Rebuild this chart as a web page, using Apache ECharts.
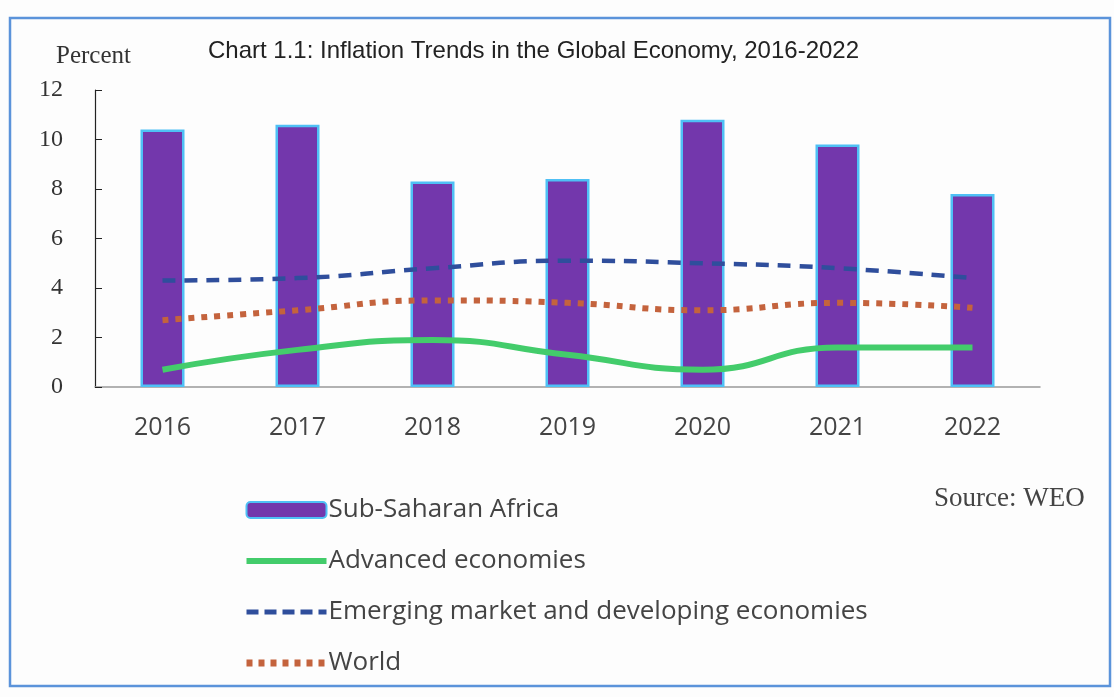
<!DOCTYPE html>
<html><head><meta charset="utf-8">
<script src="https://cdn.jsdelivr.net/npm/echarts@6/dist/echarts.min.js"></script>
<style>html,body{margin:0;padding:0;background:#fdfdfd;}#c{width:1114px;height:697px;}</style>
</head><body><div id="c"></div>
<script>
const years = ['2016','2017','2018','2019','2020','2021','2022'];
const ssa = [10.4, 10.6, 8.3, 8.4, 10.8, 9.8, 7.8];
const advanced = [0.7, 1.5, 1.9, 1.3, 0.7, 1.6, 1.6];
const emerging = [4.3, 4.4, 4.8, 5.1, 5.0, 4.8, 4.4];
const world = [2.7, 3.1, 3.5, 3.4, 3.1, 3.4, 3.2];
const yTicks = [0, 2, 4, 6, 8, 10, 12];

const hideSym = {opacity: 0};
const chart = echarts.init(document.getElementById('c'));
chart.setOption({
  backgroundColor: '#fdfdfd',
  animation: false,
  title: {
    text: 'Chart 1.1: Inflation Trends in the Global Economy, 2016-2022',
    left: 203, top: 34,
    textStyle: {fontFamily: 'Liberation Sans', fontSize: 24, fontWeight: 'normal', color: '#222'}
  },
  graphic: [
    {type: 'rect', shape: {x: 10, y: 18, width: 1100, height: 668},
     style: {fill: 'none', stroke: '#5b93da', lineWidth: 2.5}},
    {type: 'text', left: 56, top: 44,
     style: {text: 'Percent', font: '25px "Liberation Serif"', fill: '#333'}},
    {type: 'text', left: 934, top: 485,
     style: {text: 'Source: WEO', font: '27px "Liberation Serif"', fill: '#444'}}
  ],
  legend: {
    orient: 'vertical', left: 238, top: 492,
    itemWidth: 80, itemHeight: 16, itemGap: 25,
    textStyle: {fontFamily: 'Open Sans', fontSize: 26, color: '#444', padding: [0, 0, 0, -3]},
    data: [
      {name: 'Sub-Saharan Africa'},
      {name: 'Advanced economies', itemStyle: hideSym, lineStyle: {width: 6}},
      {name: 'Emerging market and developing economies', itemStyle: hideSym, lineStyle: {width: 5, type: [12, 6]}},
      {name: 'World', itemStyle: hideSym, lineStyle: {width: 7, type: [6, 6]}}
    ]
  },
  grid: {left: 95, right: 74, top: 90, bottom: 310},
  xAxis: {
    type: 'category', data: years, boundaryGap: true,
    axisLine: {lineStyle: {color: '#999', width: 1.5}},
    axisTick: {inside: true, length: 6, lineStyle: {color: '#888'}},
    axisLabel: {fontFamily: 'Open Sans', fontSize: 25, color: '#444', margin: 28}
  },
  yAxis: {
    type: 'value', min: 0, max: 12, interval: 2,
    axisLine: {show: true, lineStyle: {color: '#222', width: 1.2}},
    axisTick: {show: true, inside: true, length: 7, lineStyle: {color: '#222'}},
    splitLine: {show: false},
    axisLabel: {fontFamily: 'Liberation Serif', fontSize: 24, color: '#333', margin: 32,
      formatter: v => yTicks.includes(v) ? String(v) : ''}
  },
  series: [
    {name: 'Sub-Saharan Africa', type: 'bar', data: ssa, barWidth: 44,
     itemStyle: {color: '#7337ac', borderColor: '#4fc0f5', borderWidth: 2.5}},
    {name: 'Advanced economies', type: 'line', data: advanced, smooth: true, symbol: 'none',
     lineStyle: {color: '#43cc6b', width: 6}, itemStyle: {color: '#43cc6b'}},
    {name: 'Emerging market and developing economies', type: 'line', data: emerging, smooth: true, symbol: 'none',
     lineStyle: {color: '#2f4e9c', width: 4.5, type: [13, 9]}, itemStyle: {color: '#2f4e9c'}},
    {name: 'World', type: 'line', data: world, smooth: true, symbol: 'none',
     lineStyle: {color: '#c4633d', width: 6, type: [6, 7]}, itemStyle: {color: '#c4633d'}}
  ]
});
</script></body></html>
